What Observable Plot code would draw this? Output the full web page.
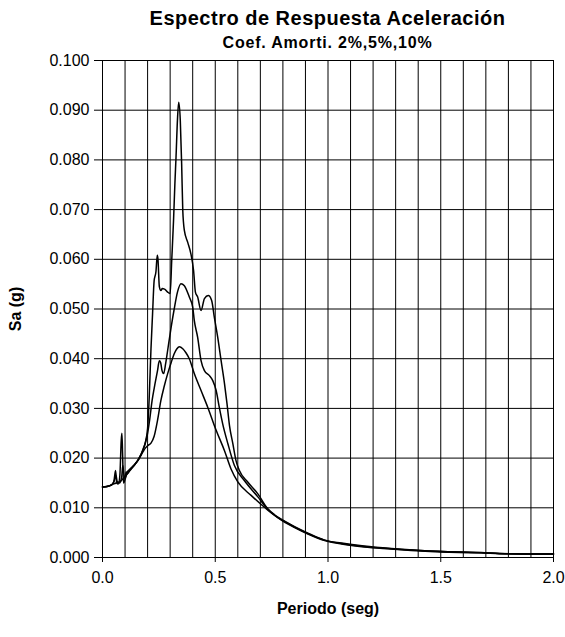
<!DOCTYPE html>
<html><head><meta charset="utf-8">
<script src="https://cdn.jsdelivr.net/npm/d3@7"></script>
<script src="https://cdn.jsdelivr.net/npm/@observablehq/plot@0.6"></script>
<style>
body{margin:0;background:#fff;font-family:"Liberation Sans",Arial,sans-serif;}
#wrap{width:565px;height:637px;overflow:hidden;}
#head{height:48px;position:relative;}
#title{position:absolute;left:92px;width:471px;top:6px;text-align:center;font-weight:bold;font-size:20px;letter-spacing:0.5px;line-height:24px;}
#sub{position:absolute;left:102px;width:451px;top:34px;text-align:center;font-weight:bold;font-size:16px;letter-spacing:0.8px;line-height:18px;}
svg{display:block;}
</style></head>
<body><div id="wrap"><div id="head"><div id="title">Espectro de Respuesta Aceleración</div><div id="sub">Coef. Amorti. 2%,5%,10%</div></div></div>
<script>
// Tick labels / gridlines
const xTicks = [0, 0.5, 1.0, 1.5, 2.0];
const yTicks = [0, 0.01, 0.02, 0.03, 0.04, 0.05, 0.06, 0.07, 0.08, 0.09, 0.1];
const xGrid = [0, 0.1, 0.2, 0.3, 0.4, 0.5, 0.6, 0.7, 0.8, 0.9, 1.0, 1.1, 1.2, 1.3, 1.4, 1.5, 1.6, 1.7, 1.8, 1.9, 2.0];

// Damping 2%
const T2  = [0, 0.02, 0.04, 0.05, 0.058, 0.063, 0.07, 0.077, 0.083, 0.086, 0.089, 0.093, 0.1, 0.105, 0.11, 0.12, 0.14, 0.16, 0.18, 0.19, 0.2, 0.207, 0.215, 0.222, 0.229, 0.237, 0.243, 0.246, 0.252, 0.259, 0.265, 0.275, 0.289, 0.3, 0.307, 0.315, 0.321, 0.326, 0.333, 0.338, 0.345, 0.351, 0.356, 0.363, 0.378, 0.392, 0.404, 0.412, 0.422, 0.437, 0.452, 0.469, 0.484, 0.496, 0.511, 0.526, 0.541, 0.552, 0.563, 0.578, 0.592, 0.607, 0.644, 0.689, 0.733, 0.763, 0.8, 0.852, 0.911, 0.985, 1.06, 1.16, 1.28, 1.41, 1.58, 1.68, 1.76, 1.9, 2.0];
const SA2 = [0.0142, 0.0143, 0.0146, 0.0152, 0.0175, 0.0150, 0.0148, 0.0165, 0.0235, 0.0250, 0.0210, 0.0150, 0.0158, 0.0172, 0.0168, 0.0175, 0.0185, 0.0198, 0.0218, 0.0232, 0.0260, 0.0320, 0.0420, 0.0490, 0.0557, 0.0575, 0.0608, 0.0600, 0.0545, 0.0537, 0.0541, 0.0540, 0.0534, 0.0531, 0.0598, 0.0678, 0.0752, 0.0805, 0.0886, 0.0916, 0.0879, 0.0792, 0.0698, 0.0658, 0.0634, 0.0611, 0.0577, 0.0534, 0.0524, 0.0497, 0.0521, 0.0527, 0.0517, 0.0483, 0.0443, 0.0396, 0.0350, 0.0310, 0.0266, 0.0229, 0.0195, 0.0175, 0.0152, 0.0128, 0.0098, 0.0086, 0.0075, 0.0062, 0.0049, 0.0035, 0.0029, 0.0023, 0.0018, 0.0014, 0.0011, 0.0010, 0.0008, 0.0007, 0.0007];

// Damping 5%
const T5  = [0, 0.02, 0.04, 0.055, 0.06, 0.065, 0.075, 0.085, 0.09, 0.094, 0.1, 0.11, 0.12, 0.14, 0.16, 0.18, 0.19, 0.2, 0.21, 0.22, 0.229, 0.244, 0.252, 0.258, 0.264, 0.271, 0.28, 0.289, 0.305, 0.318, 0.333, 0.348, 0.363, 0.385, 0.4, 0.407, 0.422, 0.437, 0.452, 0.474, 0.489, 0.504, 0.518, 0.533, 0.556, 0.585, 0.629, 0.689, 0.733, 0.763, 0.8, 0.852, 0.911, 0.985, 1.06, 1.16, 1.28, 1.41, 1.58, 1.68, 1.76, 1.9, 2.0];
const SA5 = [0.0142, 0.0143, 0.0146, 0.0158, 0.0165, 0.0153, 0.0150, 0.0162, 0.0185, 0.0170, 0.0158, 0.0172, 0.0177, 0.0186, 0.0198, 0.0217, 0.0230, 0.0250, 0.0280, 0.0316, 0.0340, 0.0376, 0.0396, 0.0392, 0.0376, 0.0370, 0.0390, 0.0417, 0.0465, 0.0500, 0.0535, 0.0551, 0.0547, 0.0524, 0.0504, 0.0477, 0.0443, 0.0396, 0.0376, 0.0366, 0.0356, 0.0336, 0.0302, 0.0269, 0.0229, 0.0185, 0.0155, 0.0122, 0.0097, 0.0085, 0.0074, 0.0061, 0.0048, 0.0035, 0.0028, 0.0022, 0.00175, 0.0014, 0.0011, 0.00098, 0.0008, 0.00072, 0.0007];

// Damping 10%
const T10  = [0, 0.02, 0.04, 0.06, 0.08, 0.09, 0.1, 0.12, 0.14, 0.16, 0.18, 0.19, 0.2, 0.215, 0.229, 0.244, 0.259, 0.274, 0.289, 0.305, 0.318, 0.33, 0.341, 0.356, 0.37, 0.385, 0.407, 0.437, 0.467, 0.504, 0.541, 0.57, 0.6, 0.659, 0.718, 0.75, 0.8, 0.852, 0.911, 0.985, 1.06, 1.16, 1.28, 1.41, 1.58, 1.68, 1.76, 1.9, 2.0];
const SA10 = [0.0142, 0.0143, 0.0146, 0.0150, 0.0153, 0.0158, 0.0163, 0.0174, 0.0185, 0.0197, 0.0213, 0.0220, 0.0225, 0.0230, 0.0244, 0.0276, 0.0316, 0.0345, 0.0370, 0.0393, 0.0410, 0.0420, 0.0424, 0.0420, 0.0412, 0.0400, 0.0370, 0.0336, 0.0302, 0.0256, 0.0215, 0.0178, 0.0152, 0.0125, 0.0101, 0.0089, 0.0073, 0.0060, 0.0047, 0.0034, 0.0027, 0.0021, 0.0017, 0.0013, 0.0010, 0.00095, 0.00075, 0.0007, 0.00068];

const toRows = (T, S) => T.map((t, i) => ({t, sa: S[i]}));
const series = [toRows(T2, SA2), toRows(T5, SA5), toRows(T10, SA10)];

const chart = Plot.plot({
  width: 565,
  height: 589,
  marginTop: 12,
  marginBottom: 80,
  marginLeft: 102,
  marginRight: 12,
  style: {fontFamily: "'Liberation Sans', Arial, sans-serif", fontSize: "16px", color: "black", background: "white", overflow: "visible"},
  x: {domain: [0, 2], ticks: xTicks, tickFormat: ".1f", tickSize: 5, tickPadding: 9, label: null},
  y: {domain: [0, 0.1], ticks: yTicks, tickFormat: ".3f", tickSize: 8, tickPadding: 5, label: null},
  marks: [
    Plot.ruleX(xGrid, {stroke: "black", strokeWidth: 1}),
    Plot.ruleY(yTicks, {stroke: "black", strokeWidth: 1}),
    ...series.map(d => Plot.line(d, {x: "t", y: "sa", stroke: "black", strokeWidth: 1.5, curve: "monotone-x"})),
    Plot.text(["Sa (g)"], {frameAnchor: "left", textAnchor: "middle", dx: -87, rotate: -90, fontWeight: "bold", fontSize: 16}),
    Plot.text(["Periodo (seg)"], {frameAnchor: "bottom", dy: 56, fontWeight: "bold", fontSize: 16, letterSpacing: 0.6})
  ]
});
document.getElementById("wrap").appendChild(chart);
</script>
</body></html>
